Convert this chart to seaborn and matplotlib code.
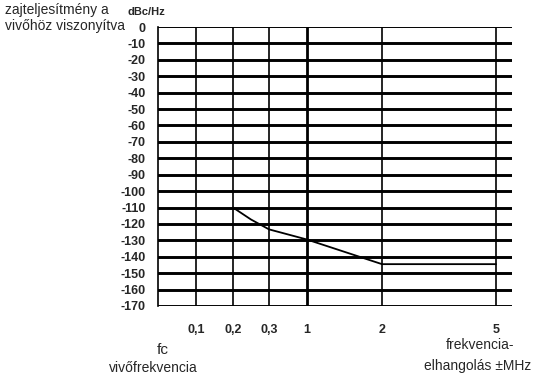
import numpy as np
import pandas as pd
import seaborn as sns
import matplotlib.pyplot as plt

# Phase noise curve
freq_mhz = [0.2, 0.25, 0.3, 1, 2, 5]
noise_dbc = [-110, -117.3, -123.3, -129.5, -144.5, -144.5]

tick_freqs = [0.1, 0.2, 0.3, 1, 2, 5]
tick_labels = ['0,1', '0,2', '0,3', '1', '2', '5']
y_ticks = list(range(0, -180, -10))

# the drawing uses a hand-made, piecewise frequency axis
knot_f = np.array([0, 0.1, 0.2, 0.3, 1, 2, 5, 6])
knot_p = np.array([0, 38, 75, 111, 149, 224, 338, 376], dtype=float)


def fwd(f):
    return np.interp(f, knot_f, knot_p)


def inv(p):
    return np.interp(p, knot_p, knot_f)


sns.set_style('white')
plt.rcParams['font.family'] = ['Liberation Sans Narrow', 'Liberation Sans', 'DejaVu Sans']

fig = plt.figure(figsize=(5.38, 3.82), dpi=100)
ax = fig.add_axes([158 / 538, 1 - 306 / 382, (512 - 158) / 538, (306 - 27) / 382])
ax.set_xscale('function', functions=(fwd, inv))
ax.set_xlim(0, inv(354))
ax.set_ylim(-170, 0)

# grid: thick horizontal, thin vertical
for y in y_ticks:
    ax.axhline(y, color='black', lw=1.4 if y == 0 else 2.1, zorder=1)
for f in tick_freqs:
    ax.axvline(f, color='black', lw=2.0 if f == 1 else 1.2, zorder=1)

df = pd.DataFrame({'f': freq_mhz, 'n': noise_dbc})
sns.lineplot(data=df, x='f', y='n', color='black', lw=1.3, ax=ax, zorder=3)

for s in ['top', 'right', 'bottom']:
    ax.spines[s].set_visible(False)
ax.spines['left'].set_color('black')
ax.spines['left'].set_linewidth(1.2)

ax.set_xticks(tick_freqs)
ax.set_xticklabels(tick_labels, fontsize=9, fontweight='bold')
ax.set_yticks(y_ticks)
ax.set_yticklabels([str(v) for v in y_ticks], fontsize=9, fontweight='bold')
ax.tick_params(axis='both', direction='out', length=4, width=1, color='black', pad=5)
ax.tick_params(axis='x', pad=9)
ax.set_xlabel('')
ax.set_ylabel('')

fig.text(5 / 538, 1 - 3 / 382, 'zajteljesítmény a\nvivőhöz viszonyítva', fontsize=10,
         va='top', ha='left', linespacing=1.2)
fig.text(128 / 538, 1 - 12 / 382, 'dBc/Hz', fontsize=8, fontweight='bold', va='center', ha='left')
fig.text(163 / 538, 1 - 350 / 382, 'fc', fontsize=11, va='center', ha='center')
fig.text(153 / 538, 1 - 368 / 382, 'vivőfrekvencia', fontsize=10, va='center', ha='center')
fig.text(480 / 538, 1 - 345 / 382, 'frekvencia-', fontsize=10, va='center', ha='center')
fig.text(478 / 538, 1 - 366 / 382, 'elhangolás ±MHz', fontsize=10, va='center', ha='center')

fig.savefig('out.png', dpi=100)
